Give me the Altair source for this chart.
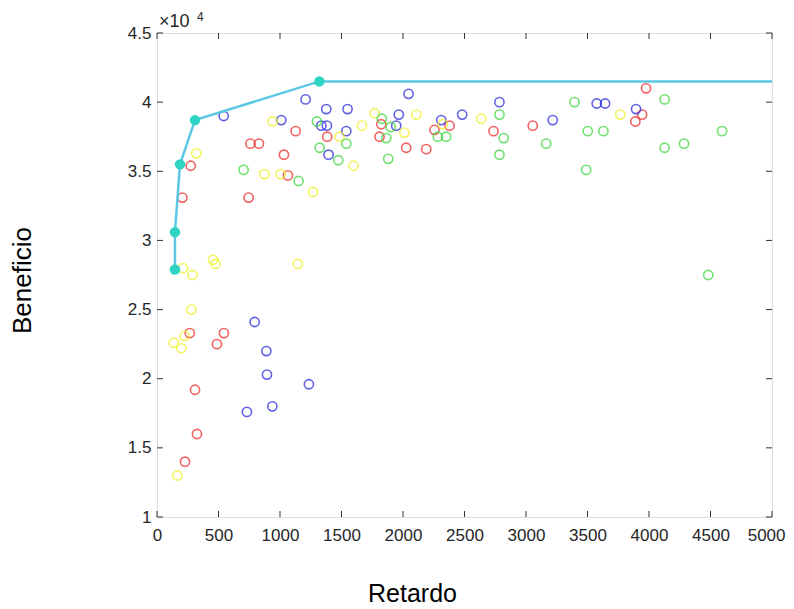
import altair as alt
import pandas as pd

# ---- data (Beneficio in units of 1e4) ----
red_x = [1127, 759, 829, 1032, 1384, 274, 1064, 206, 745, 266, 544, 487, 309, 325, 228,
         1823, 1809, 2026, 2189, 2256, 2378, 2736, 3055, 3976, 3944, 3889]
red_y = [3.79, 3.70, 3.70, 3.62, 3.75, 3.54, 3.47, 3.31, 3.31, 2.33, 2.33, 2.25, 1.92, 1.60, 1.40,
         3.84, 3.75, 3.67, 3.66, 3.80, 3.83, 3.79, 3.83, 4.10, 3.91, 3.86]

blue_x = [542, 1208, 1376, 1549, 1011, 1336, 1381, 1395, 1539, 2045, 1966, 1945, 2311, 2481,
          2784, 3217, 3575, 3643, 3895, 794, 889, 894, 731, 938, 1235]
blue_y = [3.90, 4.02, 3.95, 3.95, 3.87, 3.83, 3.83, 3.62, 3.79, 4.06, 3.91, 3.83, 3.87, 3.91,
          4.00, 3.87, 3.99, 3.99, 3.95, 2.41, 2.20, 2.03, 1.76, 1.80, 1.96]

yellow_x = [940, 320, 873, 1005, 1268, 1484, 1598, 1769, 1666, 2012, 2108, 2324, 2636, 3767,
            455, 477, 211, 288, 1146, 280, 225, 198, 136, 166]
yellow_y = [3.86, 3.63, 3.48, 3.48, 3.35, 3.75, 3.54, 3.92, 3.83, 3.78, 3.91, 3.84, 3.88, 3.91,
            2.86, 2.83, 2.80, 2.75, 2.83, 2.50, 2.31, 2.22, 2.26, 1.30]

green_x = [1300, 1322, 1474, 1539, 704, 1151, 1828, 1864, 1880, 2283, 2351, 2784, 2819, 2784,
           3164, 3394, 3502, 3629, 3489, 4127, 4127, 4285, 4594, 4482, 1900]
green_y = [3.86, 3.67, 3.58, 3.70, 3.51, 3.43, 3.88, 3.74, 3.59, 3.75, 3.75, 3.91, 3.74, 3.62,
           3.70, 4.00, 3.79, 3.79, 3.51, 4.02, 3.67, 3.70, 3.79, 2.75, 3.82]

front_x = [146, 146, 187, 309, 1320, 5000]
front_y = [2.79, 3.06, 3.55, 3.87, 4.15, 4.15]
front_marked = [True, True, True, True, True, False]

x_ticks = [0, 500, 1000, 1500, 2000, 2500, 3000, 3500, 4000, 4500, 5000]
y_ticks = [1, 1.5, 2, 2.5, 3, 3.5, 4, 4.5]

groups = ["rojo", "azul", "amarillo", "verde"]
group_colors = ["#ee2222", "#2020dd", "#f0f020", "#33d633"]

rows = []
for g, xs, ys in zip(groups, [red_x, blue_x, yellow_x, green_x], [red_y, blue_y, yellow_y, green_y]):
    for a, b in zip(xs, ys):
        rows.append({"grupo": g, "x": a, "y": b})
df = pd.DataFrame(rows)

front = pd.DataFrame({"x": front_x, "y": front_y, "orden": list(range(len(front_x))),
                      "marcado": front_marked})
xt = pd.DataFrame({"t": x_ticks})
yt = pd.DataFrame({"t": y_ticks})

W, H, TL = 615, 484, 6
FONT = "Liberation Sans"
AX = "#333333"
xscale = alt.Scale(domain=[0, 5000], nice=False, zero=False)
yscale = alt.Scale(domain=[1, 4.5], nice=False, zero=False)

last_x = "datum.value == %d" % x_ticks[-1]

scatter = alt.Chart(df).mark_point(shape="circle", filled=False, size=85, strokeWidth=1.6).encode(
    x=alt.X("x:Q", scale=xscale,
            axis=alt.Axis(orient="bottom", values=x_ticks, format="d", labelOverlap=False,
                          labelFlush=False, labelBound=False,
                          labelAlign={"condition": {"test": last_x, "value": "right"}, "value": "center"},
                          labelOffset={"condition": {"test": last_x, "value": 13}, "value": 0},
                          ticks=False, domain=False, grid=False,
                          labelFont=FONT, labelFontSize=17, labelColor="#262626", labelPadding=10,
                          title="Retardo", titleFont=FONT, titleFontSize=25, titleFontWeight="normal",
                          titleColor="#000000", titleX=255, titleY=76, titleBaseline="middle")),
    y=alt.Y("y:Q", scale=yscale,
            axis=alt.Axis(orient="left", values=y_ticks, format="~g", labelOverlap=False,
                          labelFlush=False, labelBound=False,
                          ticks=False, domain=False, grid=False,
                          labelFont=FONT, labelFontSize=17, labelColor="#262626", labelPadding=6,
                          title="Beneficio", titleFont=FONT, titleFontSize=26, titleFontWeight="normal",
                          titleColor="#000000", titleAngle=270, titleX=-135, titleY=247,
                          titleBaseline="middle")),
    color=alt.Color("grupo:N", scale=alt.Scale(domain=groups, range=group_colors), legend=None),
)

line = alt.Chart(front).mark_line(color="#5cc8e6", strokeWidth=2.5).encode(
    x=alt.X("x:Q", scale=xscale, axis=None),
    y=alt.Y("y:Q", scale=yscale, axis=None),
    order="orden:Q",
)

dots = alt.Chart(front).transform_filter("datum.marcado").mark_point(
    shape="circle", filled=True, size=110, color="#2fd4c4", opacity=1).encode(
    x=alt.X("x:Q", scale=xscale, axis=None),
    y=alt.Y("y:Q", scale=yscale, axis=None),
)

# inward MATLAB-style ticks on all four sides
tick_style = dict(color=AX, strokeWidth=1)
xt_bottom = alt.Chart(xt).mark_rule(**tick_style).encode(
    x=alt.X("t:Q", scale=xscale, axis=None), y=alt.value(H), y2=alt.value(H - TL))
xt_top = alt.Chart(xt).mark_rule(**tick_style).encode(
    x=alt.X("t:Q", scale=xscale, axis=None), y=alt.value(0), y2=alt.value(TL))
yt_left = alt.Chart(yt).mark_rule(**tick_style).encode(
    y=alt.Y("t:Q", scale=yscale, axis=None), x=alt.value(0), x2=alt.value(TL))
yt_right = alt.Chart(yt).mark_rule(**tick_style).encode(
    y=alt.Y("t:Q", scale=yscale, axis=None), x=alt.value(W), x2=alt.value(W - TL))

mult = alt.Chart(pd.DataFrame({"t": ["×10"]})).mark_text(
    font=FONT, fontSize=18, color="#262626", align="left", baseline="middle").encode(
    x=alt.value(2), y=alt.value(-11), text="t:N")
expo = alt.Chart(pd.DataFrame({"t": ["4"]})).mark_text(
    font=FONT, fontSize=12, color="#262626", align="left", baseline="middle").encode(
    x=alt.value(40), y=alt.value(-16), text="t:N")

chart = alt.layer(scatter, line, dots, xt_bottom, xt_top, yt_left, yt_right, mult, expo).resolve_axis(
    x="independent", y="independent"
).properties(
    width=W, height=H,
    autosize=alt.AutoSizeParams(type="none"),
    padding={"left": 149, "top": 25, "right": 14, "bottom": 93},
).configure_view(stroke=AX, strokeWidth=1.2).configure(background="white")

chart.save("out.html", embed_options={"renderer": "svg", "actions": False})
